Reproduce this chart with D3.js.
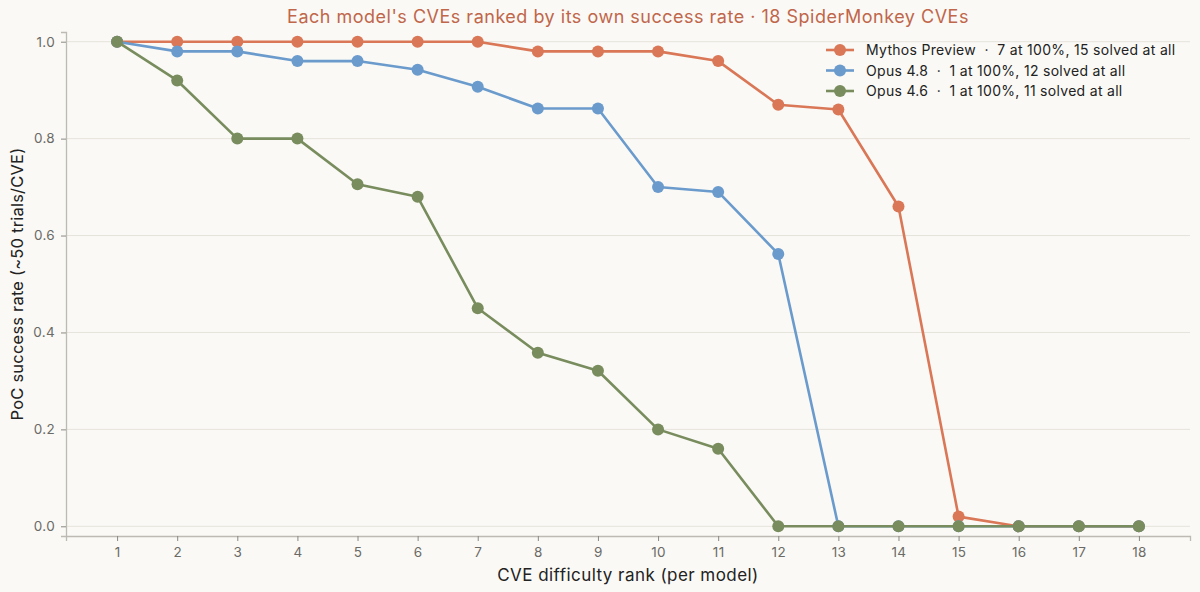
<!DOCTYPE html>
<html><head><meta charset="utf-8">
<script src="https://cdn.jsdelivr.net/npm/d3@7"></script>
<style>
html,body{margin:0;padding:0;background:#FAF9F5;}
svg{display:block;font-family:Inter,"Noto Sans",sans-serif;}
</style></head><body>
<svg id="c" width="1200" height="592"></svg>
<script>
const ranks = [1,2,3,4,5,6,7,8,9,10,11,12,13,14,15,16,17,18];
const yTicks = [0,0.2,0.4,0.6,0.8,1.0];
const seriesNames = ["Mythos Preview", "Opus 4.8", "Opus 4.6"];
const seriesLabels = ["7 at 100%, 15 solved at all", "1 at 100%, 12 solved at all", "1 at 100%, 11 solved at all"];
const seriesColors = ["#D97757", "#6A9BCC", "#788C5D"];
const mythos = [1,1,1,1,1,1,1,0.98,0.98,0.98,0.96,0.87,0.86,0.66,0.02,0,0,0];
const opus48 = [1,0.98,0.98,0.96,0.96,0.942,0.907,0.862,0.862,0.70,0.69,0.562,0,0,0,0,0,0];
const opus46 = [1,0.92,0.80,0.80,0.706,0.68,0.45,0.358,0.321,0.20,0.16,0,0,0,0,0,0,0];
const seriesValues = [mythos, opus48, opus46];

const svg = d3.select("#c");
const W = 1200, H = 592;
const m = {l:66, r:10, t:32, b:56};
const x = d3.scaleLinear().domain([0.15, 18.85]).range([m.l, W - m.r]);
const y = d3.scaleLinear().domain([-0.02, 1.02]).range([H - m.b, m.t]);

// grid
svg.append("g").selectAll("line").data(yTicks).join("line")
  .attr("x1", x(0.15)).attr("x2", x(18.85))
  .attr("y1", d => y(d)).attr("y2", d => y(d))
  .attr("stroke", "#E6E3DC").attr("stroke-width", 1);

// axes
const xa = svg.append("g").attr("transform", `translate(0,${H - m.b})`)
  .call(d3.axisBottom(x).tickValues(ranks).tickFormat(d3.format("d")).tickSizeOuter(0).tickSize(5).tickPadding(6));
const ya = svg.append("g").attr("transform", `translate(${m.l},0)`)
  .call(d3.axisLeft(y).tickValues(yTicks).tickFormat(d3.format(".1f")).tickSizeOuter(0).tickSize(5).tickPadding(6));
[xa, ya].forEach(a => {
  a.select(".domain").attr("stroke", "#BDBAB3").attr("stroke-width", 1.3);
  a.selectAll(".tick line").attr("stroke", "#8a8883").attr("stroke-width", 1);
  a.selectAll(".tick text").attr("fill", "#6b6a66").attr("font-size", 13.5)
    .attr("letter-spacing", 0.3).attr("font-family", "Inter, sans-serif");
});

// lines
const line = d3.line().x((d, i) => x(ranks[i])).y(d => y(d));
seriesValues.forEach((vals, si) => {
  const g = svg.append("g");
  g.append("path").datum(vals).attr("d", line)
    .attr("fill", "none").attr("stroke", seriesColors[si]).attr("stroke-width", 2.6)
    .attr("stroke-linejoin", "round");
  g.selectAll("circle").data(vals).join("circle")
    .attr("cx", (d, i) => x(ranks[i])).attr("cy", d => y(d)).attr("r", 6)
    .attr("fill", seriesColors[si]);
});

// title
svg.append("text").attr("x", (m.l + W - m.r) / 2).attr("y", 23)
  .attr("text-anchor", "middle").attr("font-size", 18).attr("letter-spacing", 0.5).attr("fill", "#C0664A")
  .text("Each model's CVEs ranked by its own success rate \u00b7 18 SpiderMonkey CVEs");

// axis labels
svg.append("text").attr("x", (m.l + W - m.r) / 2).attr("y", 581)
  .attr("text-anchor", "middle").attr("font-size", 17).attr("letter-spacing", 0.45).attr("fill", "#222")
  .text("CVE difficulty rank (per model)");
svg.append("text").attr("transform", `translate(23,${(m.t + H - m.b) / 2}) rotate(-90)`)
  .attr("text-anchor", "middle").attr("font-size", 16.5).attr("letter-spacing", 0.2).attr("fill", "#222")
  .text("PoC success rate (~50 trials/CVE)");

// legend
const lg = svg.append("g").attr("transform", "translate(826,50)");
seriesNames.forEach((n, i) => {
  const row = lg.append("g").attr("transform", `translate(0,${i * 20.5})`);
  row.append("line").attr("x1", 0).attr("x2", 28).attr("y1", 0).attr("y2", 0)
    .attr("stroke", seriesColors[i]).attr("stroke-width", 2.6);
  row.append("circle").attr("cx", 14).attr("cy", 0).attr("r", 6).attr("fill", seriesColors[i]);
  row.append("text").attr("x", 40).attr("y", 5).attr("font-size", 14).attr("letter-spacing", 0.3).attr("fill", "#222")
    .attr("xml:space", "preserve")
    .text(n + "  \u00b7  " + seriesLabels[i]);
});
</script>
</body></html>
